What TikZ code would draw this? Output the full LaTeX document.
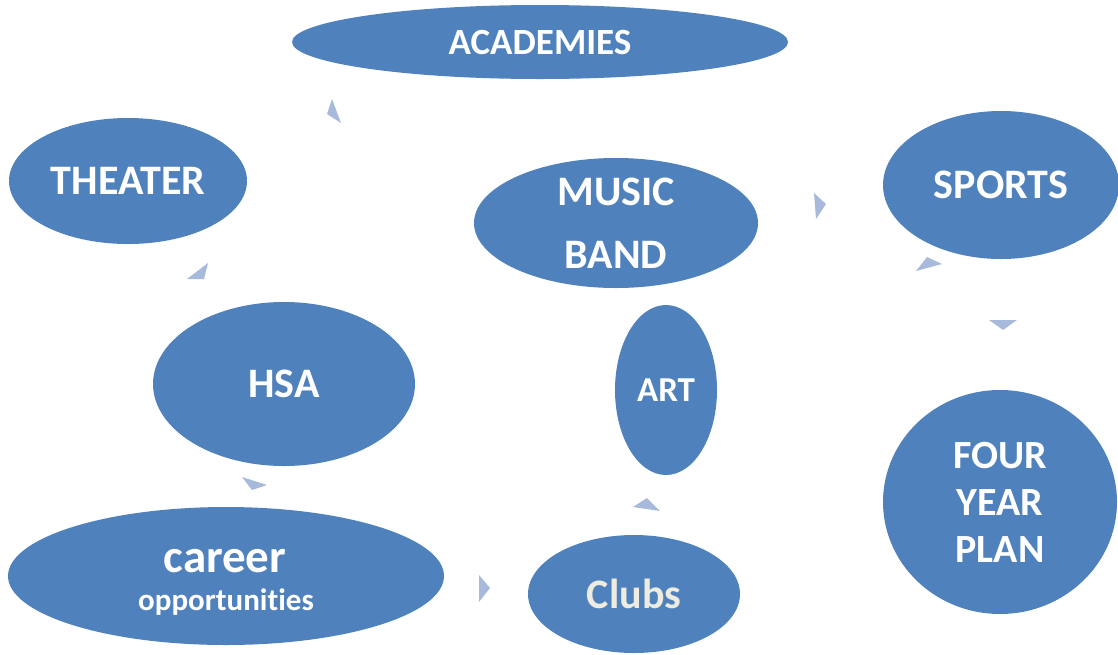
\documentclass[tikz,border=0pt]{standalone}
\usepackage{fontspec}
\setmainfont{Carlito}[Ligatures={NoCommon}]
\usetikzlibrary{shapes.geometric}
\definecolor{ovalblue}{HTML}{4F81BD}
\definecolor{tipblue}{HTML}{A7BADB}
\definecolor{cream}{HTML}{EEECE1}
\tikzset{
  oval/.style={ellipse, fill=ovalblue, draw=none, inner sep=0pt, text=white,
    align=center, font=\bfseries},
  tip/.style={fill=tipblue, draw=none},
}
\begin{document}
\begin{tikzpicture}[x=1pt,y=-1pt]
\useasboundingbox (0,0) rectangle (1118,654);
% ovals
\node[oval, minimum width=496pt, minimum height=74pt,
  font=\bfseries\fontsize{37}{44}\selectfont] (acad) at (540,42) {ACADEMIES};
\node[oval, minimum width=238pt, minimum height=126pt,
  font=\bfseries\fontsize{42}{50}\selectfont] (theater) at (128,181) {THEATER};
\node[oval, minimum width=284pt, minimum height=130pt,
  font=\bfseries\fontsize{42}{63}\selectfont] (music) at (616,223) {MUSIC\\BAND};
\node[oval, minimum width=236pt, minimum height=148pt,
  font=\bfseries\fontsize{42}{50}\selectfont] (sports) at (1001,185) {SPORTS};
\node[oval, minimum width=262pt, minimum height=164pt,
  font=\bfseries\fontsize{42}{50}\selectfont] (hsa) at (284,384) {HSA};
\node[oval, minimum width=102pt, minimum height=170pt,
  font=\bfseries\fontsize{35}{42}\selectfont] (art) at (666,390) {ART};
\node[oval, minimum width=234pt, minimum height=224pt,
  font=\bfseries\fontsize{40}{47}\selectfont] (plan) at (1000,502) {FOUR\\YEAR\\PLAN};
\node[oval, minimum width=436pt, minimum height=138pt] (career) at (226,576) {};
\node[oval, minimum width=212pt, minimum height=118pt, text=cream,
  font=\bfseries\fontsize{42}{50}\selectfont] (clubs) at (634,594) {Clubs};
% career text
\node[text=white, font=\bfseries\fontsize{47}{50}\selectfont, anchor=base, inner sep=0pt]
  (careerA) at (225,572) {career};
\node[text=white, font=\bfseries\fontsize{31}{34}\selectfont, anchor=base, inner sep=0pt]
  (careerB) at (226,610) {opportunities};
% arrow tips
\fill[tip] (332,99) -- (327,114) -- (341,123) -- cycle;
\fill[tip] (814,193) -- (826,204) -- (816,219) -- cycle;
\fill[tip] (927,257) -- (942,264) -- (916,271) -- cycle;
\fill[tip] (989,320) -- (1017,320) -- (1003,330) -- cycle;
\fill[tip] (208,263) -- (204,279) -- (187,279) -- cycle;
\fill[tip] (242,477) -- (267,485) -- (252,490) -- cycle;
\fill[tip] (479,575) -- (490,588) -- (479,602) -- cycle;
\fill[tip] (647,498) -- (660,511) -- (633,507) -- cycle;
\end{tikzpicture}
\end{document}
